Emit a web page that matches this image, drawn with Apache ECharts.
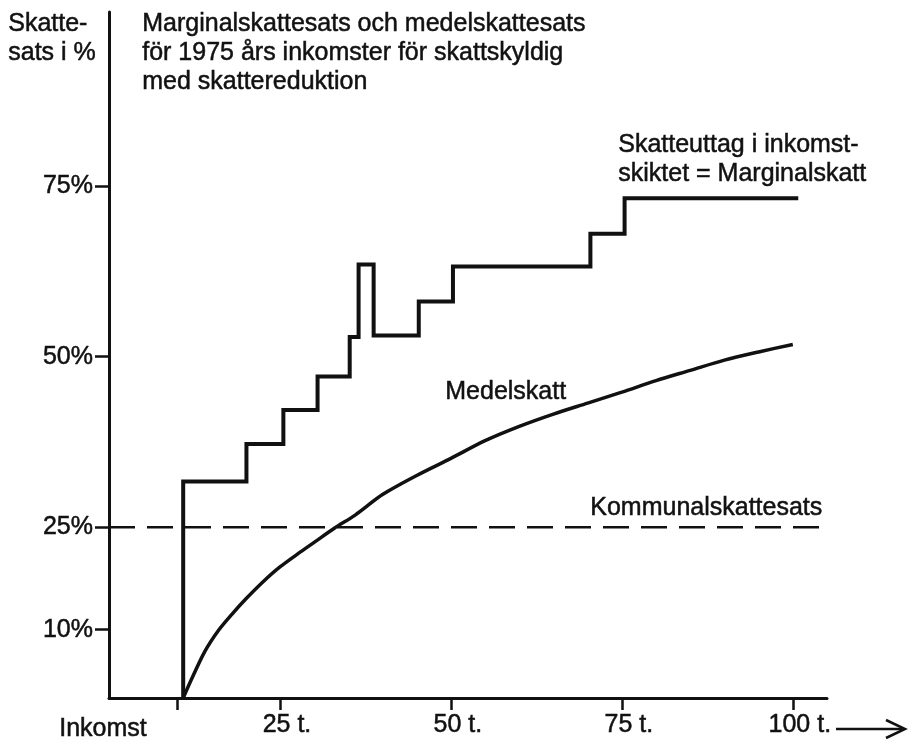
<!DOCTYPE html>
<html>
<head>
<meta charset="utf-8">
<script src="https://cdn.jsdelivr.net/npm/echarts@6/dist/echarts.min.js"></script>
<style>
html,body{margin:0;padding:0;background:#fff;}
#c{width:914px;height:741px;}
</style>
</head>
<body>
<div id="c"></div>
<script>
// Income in thousands of kronor (t.), rates in percent
const xTicks = [10, 25, 50, 75, 100];
const xLabels = [25, 50, 75, 100];
const yTicks = [10, 25, 50, 75];
// Marginal tax: bracket boundaries (income) and rate inside each bracket
const bracketEdges = [10.85, 20.1, 25.5, 30.5, 35.2, 36.5, 38.7, 45.3, 50.3, 70.4, 75.4, 100.8];
const marginalRates = [31.7, 37.2, 42.2, 47.1, 52.9, 63.5, 53.1, 58.1, 63.2, 68.0, 73.2];
// Average tax (Medelskatt)
const avgIncome = [10.85, 12, 14, 16, 18, 20, 22.5, 25, 28, 30, 33, 36, 40, 45, 50, 55, 60, 65, 70, 75, 80, 85, 90, 95, 100];
const avgRate   = [0, 2.6, 6.8, 9.9, 12.3, 14.5, 17.0, 19.2, 21.4, 22.8, 24.9, 26.8, 29.8, 32.6, 35.1, 37.7, 39.8, 41.6, 43.2, 44.8, 46.5, 48.0, 49.5, 50.7, 51.8];
// Municipal tax rate
const kommunalRate = 25;
const kommunalSpan = [0, 105];

const marginalPts = [[bracketEdges[0], 0]];
for (let i = 0; i < marginalRates.length; i++) {
  marginalPts.push([bracketEdges[i], marginalRates[i]]);
  marginalPts.push([bracketEdges[i + 1], marginalRates[i]]);
}
const avgPts = avgIncome.map((x, i) => [x, avgRate[i]]);
const kommunalPts = kommunalSpan.map(x => [x, kommunalRate]);

const FONT = 'Liberation Sans';
const INK = '#111';
const FS = 25;
const txt = (left, top, text) => ({
  type: 'text', left, top,
  style: {text, font: FS + 'px "Liberation Sans"', fill: INK, stroke: INK, lineWidth: 0.5, lineHeight: 29}
});
const chart = echarts.init(document.getElementById('c'), null, {renderer: 'canvas'});
chart.setOption({
  animation: false,
  backgroundColor: '#fff',
  textStyle: {fontFamily: FONT, color: INK},
  grid: {left: 109, right: 87, top: 12, bottom: 43},
  xAxis: {
    type: 'value', min: 0, max: 105,
    axisLine: {show: true, lineStyle: {color: INK, width: 3}},
    axisTick: {show: true, customValues: xTicks, length: 12, lineStyle: {color: INK, width: 2.5}},
    axisLabel: {customValues: xLabels, formatter: v => v + ' t.', fontSize: FS, color: INK, fontFamily: FONT,
      margin: 15, padding: [0, 0, 0, 14], textBorderColor: INK, textBorderWidth: 0.5},
    splitLine: {show: false}
  },
  yAxis: {
    type: 'value', min: 0, max: 100.5,
    axisLine: {show: true, lineStyle: {color: INK, width: 3}},
    axisTick: {show: true, customValues: yTicks, length: 14, lineStyle: {color: INK, width: 2.5}},
    axisLabel: {customValues: yTicks, formatter: v => v + '%', fontSize: FS, color: INK, fontFamily: FONT,
      margin: 16, textBorderColor: INK, textBorderWidth: 0.5},
    splitLine: {show: false}
  },
  series: [
    {
      name: 'Kommunalskattesats', type: 'line', data: kommunalPts, symbol: 'none',
      lineStyle: {color: INK, width: 2.5, type: [26, 12]}
    },
    {
      name: 'Marginalskatt', type: 'line', data: marginalPts, symbol: 'none',
      lineStyle: {color: INK, width: 4, join: 'miter'}
    },
    {
      name: 'Medelskatt', type: 'line', data: avgPts, symbol: 'none', smooth: 0.3,
      lineStyle: {color: INK, width: 3.5}
    }
  ],
  graphic: [
    txt(8, 10, 'Skatte-\nsats i %'),
    txt(142, 10, 'Marginalskattesats och medelskattesats\nför 1975 års inkomster för skattskyldig\nmed skattereduktion'),
    txt(618, 131, 'Skatteuttag i inkomst-\nskiktet = Marginalskatt'),
    txt(445, 378, 'Medelskatt'),
    txt(590, 494, 'Kommunalskattesats'),
    txt(59, 715, 'Inkomst'),
    {type: 'polyline', shape: {points: [[836, 729], [902, 729]]}, style: {stroke: INK, lineWidth: 2.5, fill: null}},
    {type: 'polyline', shape: {points: [[886, 720], [905, 729], [886, 738]]}, style: {stroke: INK, lineWidth: 2.5, fill: null}}
  ]
});
</script>
</body>
</html>
